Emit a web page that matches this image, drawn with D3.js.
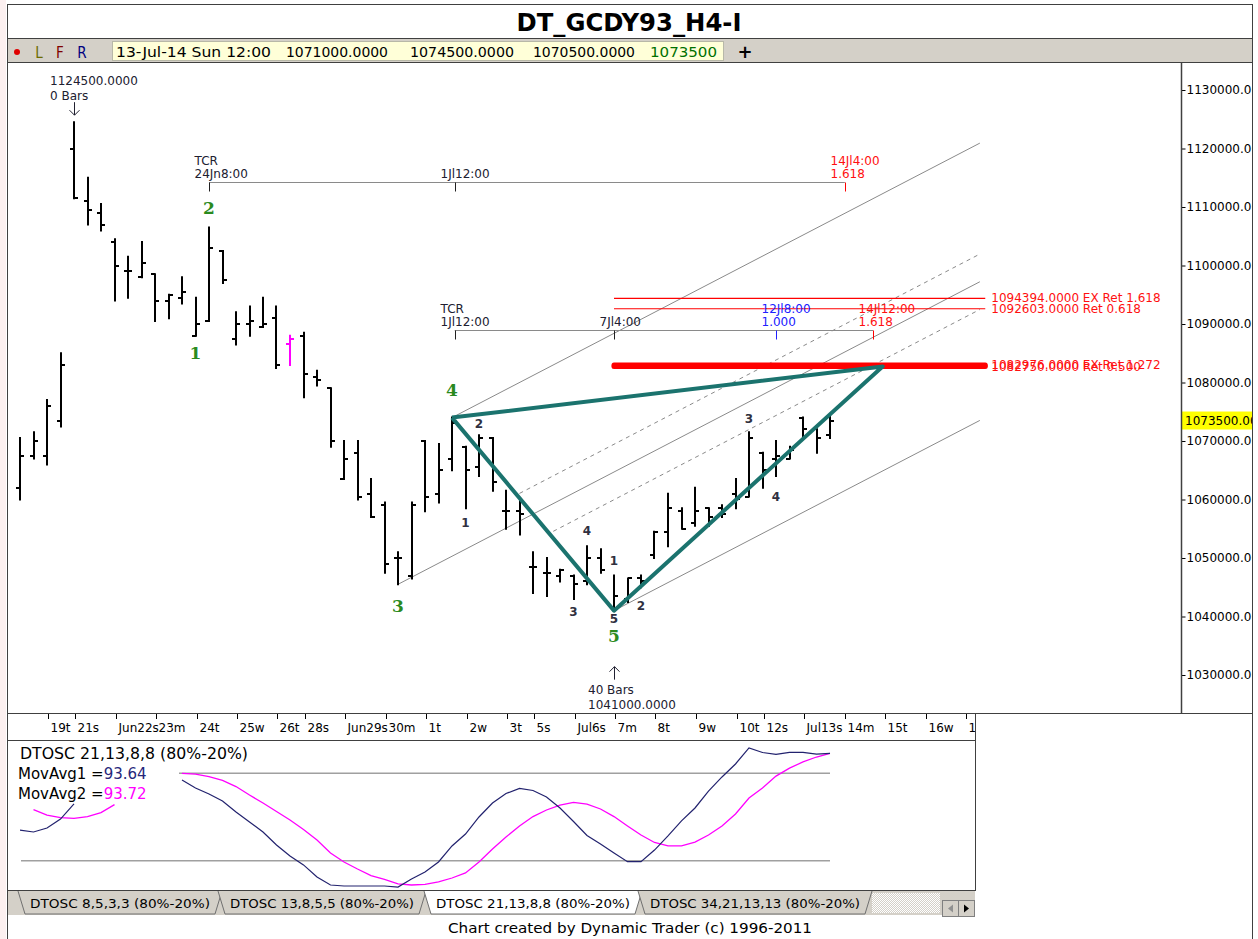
<!DOCTYPE html>
<html><head><meta charset="utf-8">
<script src="https://cdnjs.cloudflare.com/ajax/libs/d3/7.8.5/d3.min.js"></script>
<style>
html,body{margin:0;padding:0;background:#fff;}
svg{display:block;font-family:"DejaVu Sans",sans-serif;}
</style></head><body>
<svg id="chart" width="1258" height="939"></svg>
<script>
// ---------------- DATA ----------------
const opens  = [1062000,1067500,1067500,1073500,1120000,1111000,1109000,1104000,1099000,1098000,
                1098500,1094000,1094500,1088000,1090500,1102500,1087500,1090000,1089500,1091000,
                1086500,1088000,1081000,1079000,1063500,1068000,1061000,1059000,1050000,1047000,
                1070000,1061000,1067000,1069000,1065500,1070500,1058000,1058000,1048500,1047500,
                1047000,1047000,1046000,1050000,1041500,1043000,1046500,1050500,1054500,1058000,
                1056000,1058500,1058500,1061000,1060500,1068000,1067000,1067000,1074000,1072000,1071000];
const highs  = [1070500,1071500,1077000,1085000,1124500,1115000,1110500,1104500,1101500,1104000,
                1098500,1095000,1098000,1094500,1106500,1102500,1092000,1093000,1094500,1093000,
                1088000,1088500,1082000,1079000,1070000,1070000,1063500,1059500,1051000,1059500,
                1070000,1069500,1074000,1069000,1071000,1070500,1061500,1060000,1051000,1050000,
                1048000,1047000,1052000,1051500,1047000,1046500,1047000,1054500,1061000,1058500,
                1062000,1058500,1059000,1063500,1071500,1068000,1070000,1069000,1074000,1072000,1074500];
const lows   = [1060000,1067000,1066000,1072500,1111500,1107000,1106000,1094000,1094500,1098000,
                1090500,1091000,1093500,1088000,1090500,1097000,1086500,1088000,1089500,1082500,
                1083000,1077500,1079500,1069000,1063500,1060000,1057000,1047500,1045500,1046500,
                1058000,1059500,1065000,1058500,1064000,1061500,1055000,1054000,1044000,1043500,
                1046000,1043000,1045500,1047500,1041000,1042500,1045000,1050000,1052000,1055000,
                1055500,1055500,1057000,1058500,1060500,1062000,1064000,1067000,1070500,1068000,1070500];
const closes = [1067500,1070000,1076000,1083000,1111500,1109500,1107000,1100000,1099000,1100500,
                1094000,1095000,1095500,1090000,1103000,1097500,1090000,1090500,1090000,1083000,
                1087500,1081500,1080500,1070000,1067000,1060500,1057000,1049000,1050000,1059000,
                1060500,1065000,1073000,1065000,1070500,1063000,1058000,1057500,1048500,1047500,
                1048000,1045500,1050000,1048000,1043500,1046500,1046000,1054500,1058500,1055000,
                1058000,1057000,1057500,1060000,1070500,1065000,1067500,1068500,1072000,1070500,1073500];
const highlightedBar = 20;

const dayTickIndex  = [2,4,7,10,13,16,19,21,24,27,30,33,36,38,41,44,47,50,53,55,58,61,64,67,70];
const dayTickLabels = ["19t","21s","Jun22s","23m","24t","25w","26t","28s","Jun29s","30m","1t","2w",
                       "3t","5s","Jul6s","7m","8t","9w","10t","12s","Jul13s","14m","15t","16w","17t"];
const priceTicks = [1030000,1040000,1050000,1060000,1070000,1080000,1090000,1100000,1110000,1120000,1130000];
const lastClose = 1073500;

// DTOSC 21,13,8,8 – null where hidden behind the legend box
const oscMovAvg1 = [41,39.7,42.4,48.6,59,null,null,null,null,null,null,null,
  75.4,69.9,65.8,61.0,53.4,46.6,39.7,30.8,23.2,17.1,8.8,3.3,2.6,2.6,2.6,2.6,1.9,7.4,12.2,19.1,30.1,
  38.3,50.0,59.6,66.1,69.7,68.2,63.7,56.2,46.9,37.3,31.5,25.3,19.3,19.3,27.3,37.0,47.3,56.2,67.8,
  77.5,86.4,97.4,94.3,93.0,94.4,94.4,93.2,93.64];
const oscMovAvg2 = [null,55,51.3,49.5,49.0,50.2,53,58.5,null,null,null,null,
  80.0,79.5,77.8,75.1,70.9,65.1,59.6,53.8,47.9,41.4,34.2,25.3,19.1,14.3,9.8,7.1,4.0,3.3,3.7,5.4,8.1,
  11.6,19.1,28.0,36.3,43.8,50.3,54.8,58.2,60.1,58.9,55.5,50.3,43.8,37.6,32.5,30.1,30.1,32.8,37.6,
  43.8,52.1,63.0,69.9,78.1,83.6,87.8,91.2,93.72];
const oscLevels = [80,20];

// wave labels: bar index, price level of the label, text
const majorWaveIndex = [14,13,32,28,44];
const majorWavePrice = [1109800,1085000,1078700,1041800,1036700];
const majorWaveText  = ["2","1","4","3","5"];
const minorWaveIndex = [34,33,42,41,44,44,46,54,56];
const minorWavePrice = [1072900,1056000,1054600,1040900,1049500,1039600,1041800,1073900,1060400];
const minorWaveText  = ["2","1","4","3","1","5","2","3","4"];

// wave 4 -> wave 5 -> projected target
const trianglePivotIndex = [32,44,63.9,32];
const trianglePivotPrice = [1074000,1041000,1082750,1074000];

// parallel channel (centre line through wave-3 low)
const channelStart = [28,1045500];
const channelSlopePerBar = 1200;
const channelEndIndex = 71.1;
const channelSolidOffsets = [23700,0,-23700];
const channelSolidStart   = [32,28,44];
const channelDashOffsets  = [4740,-4740];
const channelDashStart    = [37,39.5];

// price targets
const targetPrices = [1094394,1092603,1082976,1082750];
const targetNames  = ["EX Ret 1.618","Ret 0.618","EX Ret 1.272","Ret 0.500"];
const targetStartIndex = 44, targetEndIndex = 71.5;

// time cycle rulers
const ruler1Price = 1114200, ruler1Ticks = [14,32.2,61.1];
const ruler1Labels = [["TCR","24Jn8:00"],["1Jl12:00"],["14Jl4:00","1.618"]];
const ruler2Price = 1089000, ruler2Ticks = [32.2,44,56,63.2];
const ruler2Labels = [["TCR","1Jl12:00"],["7Jl4:00"],["12Jl8:00","1.000"],["14Jl12:00","1.618"]];
const ruler1Kinds = ["start","mid","red"], ruler2Kinds = ["start","mid","blue","red"];

// pivots with bar counts
const topPivot = {i:4, price:1124500, bars:"0 Bars"};
const bottomPivot = {i:44, price:1041000, bars:"40 Bars"};

const quoteTexts = ["13-Jul-14 Sun 12:00","1071000.0000","1074500.0000","1070500.0000","1073500"];
const tabNames = ["DTOSC 8,5,3,3 (80%-20%)","DTOSC 13,8,5,5 (80%-20%)","DTOSC 21,13,8,8 (80%-20%)","DTOSC 34,21,13,13 (80%-20%)"];

// ---------------- DRAW ----------------
const svg = d3.select("#chart");
const W = 1258, H = 939;
const P = {l:8, r:1181, t:63, b:713};    // price panel
const O = {l:8, r:975, t:741, b:890};    // oscillator panel

const x = d3.scaleLinear().domain([0,70]).range([20,965]);
const y = d3.scaleLinear().domain([1030000,1130000]).range([675,90]);
const yo = d3.scaleLinear().domain([0,100]).range([889.8,744.2]);
const px = i => Math.round(x(i));

svg.append("rect").attr("width",W).attr("height",H).attr("fill","#fff");
svg.append("rect").attr("x",0).attr("y",0).attr("width",6).attr("height",H).attr("fill","#fcf0f0");

const defs = svg.append("defs");
defs.append("clipPath").attr("id","cp").append("rect").attr("x",P.l).attr("y",P.t).attr("width",P.r-P.l).attr("height",P.b-P.t);
defs.append("clipPath").attr("id","cpAxis").append("rect").attr("x",P.r).attr("y",P.t).attr("width",1252-P.r).attr("height",P.b-P.t);
defs.append("clipPath").attr("id","cpTime").append("rect").attr("x",P.l).attr("y",P.b).attr("width",O.r-P.l).attr("height",28);
defs.append("clipPath").attr("id","cpOsc").append("rect").attr("x",O.l).attr("y",O.t).attr("width",O.r-O.l).attr("height",O.b-O.t);
const pat = defs.append("pattern").attr("id","hatch").attr("width",2).attr("height",2).attr("patternUnits","userSpaceOnUse");
pat.append("rect").attr("width",2).attr("height",2).attr("fill","#d4d0c8");
pat.append("rect").attr("width",1).attr("height",1).attr("fill","#ffffff");
pat.append("rect").attr("x",1).attr("y",1).attr("width",1).attr("height",1).attr("fill","#ffffff");

// title
svg.append("text").attr("x",629).attr("y",31).attr("text-anchor","middle")
  .attr("font-family","DejaVu Sans Condensed, DejaVu Sans").attr("font-weight","bold")
  .attr("font-size",25).attr("textLength",225).attr("lengthAdjust","spacingAndGlyphs")
  .text("DT_GCDY93_H4-I");

// toolbar
svg.append("rect").attr("x",7).attr("y",39).attr("width",1246).attr("height",23).attr("fill","#d4d0c8");
svg.append("rect").attr("x",112.5).attr("y",41.5).attr("width",611).attr("height",19).attr("fill","#ffffd8").attr("stroke","#b8b8a8");
svg.append("circle").attr("cx",17).attr("cy",52).attr("r",3).attr("fill","#e00000");
[["L","#6b6b00",39],["F","#800000",60],["R","#000080",82]].forEach(d=>{
  svg.append("text").attr("x",d[2]).attr("y",58).attr("text-anchor","middle").attr("font-size",15)
    .attr("font-family","DejaVu Sans Condensed, DejaVu Sans").attr("fill",d[1]).text(d[0]);
});
const quoteX = [116,286,410,533,650], quoteW = [155,102,104,102,67];
quoteTexts.forEach((t,k)=>{
  svg.append("text").attr("x",quoteX[k]).attr("y",57).attr("font-size",14)
    .attr("font-family","DejaVu Sans Condensed, DejaVu Sans")
    .attr("textLength",quoteW[k]).attr("lengthAdjust","spacingAndGlyphs")
    .attr("fill",k===4?"#007000":"#000").text(t);
});
svg.append("text").attr("x",745).attr("y",58).attr("text-anchor","middle").attr("font-size",18).attr("font-weight","bold").text("+");

// frame lines
const frame = svg.append("g").attr("stroke","#404040").attr("fill","none");
frame.append("line").attr("x1",7.5).attr("x2",7.5).attr("y1",4).attr("y2",H);
frame.append("line").attr("x1",1252.5).attr("x2",1252.5).attr("y1",4).attr("y2",H);
frame.append("line").attr("x1",7).attr("x2",1253).attr("y1",4.5).attr("y2",4.5);
frame.append("line").attr("x1",7).attr("x2",1253).attr("y1",38.5).attr("y2",38.5);
frame.append("line").attr("x1",7).attr("x2",1253).attr("y1",62.5).attr("y2",62.5);
frame.append("line").attr("x1",7).attr("x2",1253).attr("y1",713.5).attr("y2",713.5);
frame.append("line").attr("x1",7).attr("x2",O.r+0.5).attr("y1",740.5).attr("y2",740.5);
frame.append("line").attr("x1",O.r+0.5).attr("x2",O.r+0.5).attr("y1",713).attr("y2",O.b+1);
frame.append("line").attr("x1",7).attr("x2",O.r+0.5).attr("y1",O.b+0.5).attr("y2",O.b+0.5);

// ---- price panel
const pg = svg.append("g").attr("clip-path","url(#cp)");

// channel
const chan = (i,off)=> channelStart[1] + (i-channelStart[0])*channelSlopePerBar + off;
channelSolidOffsets.forEach((off,k)=>{
  pg.append("line").attr("x1",x(channelSolidStart[k])).attr("y1",y(chan(channelSolidStart[k],off)))
    .attr("x2",x(channelEndIndex)).attr("y2",y(chan(channelEndIndex,off)))
    .attr("stroke","#8a8a8a").attr("stroke-width",1);
});
channelDashOffsets.forEach((off,k)=>{
  pg.append("line").attr("x1",x(channelDashStart[k])).attr("y1",y(chan(channelDashStart[k],off)))
    .attr("x2",x(channelEndIndex)).attr("y2",y(chan(channelEndIndex,off)))
    .attr("stroke","#8a8a8a").attr("stroke-width",1).attr("stroke-dasharray","4,4");
});

// target lines
targetPrices.forEach((p,k)=>{
  const thick = k>=2;
  pg.append("line").attr("x1",x(targetStartIndex)).attr("x2",x(targetEndIndex))
    .attr("y1",y(p)).attr("y2",y(p)).attr("stroke","#ff0000")
    .attr("stroke-width",thick?5:1.2).attr("stroke-linecap",thick?"round":"butt");
  pg.append("text").attr("x",x(targetEndIndex)+6).attr("y",y(p)).attr("dy","0.35em")
    .attr("font-size",12).attr("fill","#ff1010").text(p.toFixed(4)+" "+targetNames[k]);
});

// rulers
function ruler(price, ticks, labels, kinds){
  const yy = Math.round(y(price))+0.5;
  pg.append("line").attr("x1",x(ticks[0])).attr("x2",x(ticks[ticks.length-1])).attr("y1",yy).attr("y2",yy)
    .attr("stroke","#8a8a8a").attr("stroke-width",1);
  ticks.forEach((t,k)=>{
    const col = kinds[k]==="red"?"#ff0000":kinds[k]==="blue"?"#2020ff":"#202020";
    const tx = Math.round(x(t))+0.5;
    pg.append("line").attr("x1",tx).attr("x2",tx).attr("y1",yy).attr("y2",yy+9).attr("stroke",col);
    const lab = labels[k];
    lab.forEach((s,j)=>{
      pg.append("text").attr("x",tx-15).attr("y",yy-5-13*(lab.length-1-j)).attr("font-size",12)
        .attr("fill",kinds[k]==="red"?"#ff1010":kinds[k]==="blue"?"#2020ff":"#202030").text(s);
    });
  });
}
ruler(ruler1Price, ruler1Ticks, ruler1Labels, ruler1Kinds);
ruler(ruler2Price, ruler2Ticks, ruler2Labels, ruler2Kinds);

// bars
const bars = d3.range(opens.length).map(i=>({i,o:opens[i],h:highs[i],l:lows[i],c:closes[i]}));
const bg = pg.append("g").attr("stroke-width",2);
bars.forEach(d=>{
  const col = d.i===highlightedBar ? "#ff00ff" : "#000";
  const cx = px(d.i);
  bg.append("line").attr("x1",cx).attr("x2",cx).attr("y1",y(d.h)-1).attr("y2",y(d.l)+1).attr("stroke",col);
  bg.append("line").attr("x1",cx-4).attr("x2",cx).attr("y1",Math.round(y(d.o))).attr("y2",Math.round(y(d.o))).attr("stroke",col);
  bg.append("line").attr("x1",cx).attr("x2",cx+4).attr("y1",Math.round(y(d.c))).attr("y2",Math.round(y(d.c))).attr("stroke",col);
});

// teal triangle
pg.append("path").attr("d", d3.line().x(d=>x(d[0])).y(d=>y(d[1]))(trianglePivotIndex.map((v,k)=>[v,trianglePivotPrice[k]])))
  .attr("fill","none").attr("stroke","#1b736e").attr("stroke-width",4).attr("stroke-linejoin","round");

// wave labels
majorWaveText.forEach((t,k)=>{
  pg.append("text").attr("x",x(majorWaveIndex[k])).attr("y",y(majorWavePrice[k])).attr("dy","0.36em")
    .attr("text-anchor","middle").attr("font-family","DejaVu Serif").attr("font-weight","bold")
    .attr("font-size",17).attr("fill","#2a8a1e").text(t);
});
minorWaveText.forEach((t,k)=>{
  pg.append("text").attr("x",x(minorWaveIndex[k])).attr("y",y(minorWavePrice[k])).attr("dy","0.36em")
    .attr("text-anchor","middle").attr("font-weight","bold")
    .attr("font-size",12).attr("fill","#303040").text(t);
});

// pivot annotations
{
  const tx = px(topPivot.i), ty = y(topPivot.price);
  pg.append("text").attr("x",tx-24).attr("y",ty-37).attr("font-size",12).attr("fill","#202030").text(topPivot.price.toFixed(4));
  pg.append("text").attr("x",tx-24).attr("y",ty-22).attr("font-size",12).attr("fill","#202030").text(topPivot.bars);
  pg.append("path").attr("d",`M${tx+0.5},${ty-20}V${ty-7}M${tx-4.5},${ty-12}L${tx+0.5},${ty-7}L${tx+5.5},${ty-12}`)
    .attr("fill","none").attr("stroke","#202030");
  const bx = px(bottomPivot.i), by = y(bottomPivot.price);
  pg.append("path").attr("d",`M${bx+0.5},${by+69}V${by+56}M${bx-4.5},${by+61}L${bx+0.5},${by+56}L${bx+5.5},${by+61}`)
    .attr("fill","none").attr("stroke","#202030");
  pg.append("text").attr("x",bx-26).attr("y",by+83).attr("font-size",12).attr("fill","#202030").text(bottomPivot.bars);
  pg.append("text").attr("x",bx-26).attr("y",by+98).attr("font-size",12).attr("fill","#202030").text(bottomPivot.price.toFixed(4));
}

// price axis
const ax = svg.append("g").attr("clip-path","url(#cpAxis)");
ax.append("g").attr("transform",`translate(${P.r+0.5},0)`)
  .call(d3.axisRight(y).tickValues(priceTicks).tickSize(4).tickPadding(1).tickFormat(d=>d.toFixed(4)))
  .call(g=>{g.select(".domain").remove();
    g.selectAll("text").attr("font-size",12).attr("font-family","DejaVu Sans").attr("fill","#000");
    g.selectAll("line").attr("stroke","#000");});
ax.append("rect").attr("x",P.r+1).attr("y",y(lastClose)-9).attr("width",80).attr("height",18).attr("fill","#ffff00");
ax.append("text").attr("x",P.r+4).attr("y",y(lastClose)).attr("dy","0.35em").attr("font-size",12).text(lastClose.toFixed(4));
svg.append("line").attr("x1",P.r+0.5).attr("x2",P.r+0.5).attr("y1",P.t).attr("y2",P.b).attr("stroke","#404040").attr("stroke-width",1.5);

// time axis
const tg = svg.append("g").attr("clip-path","url(#cpTime)");
tg.append("g").attr("transform",`translate(0,${P.b+1})`)
  .call(d3.axisBottom(x).tickValues(dayTickIndex).tickSize(5).tickFormat((d,k)=>dayTickLabels[k]))
  .call(g=>{g.select(".domain").remove();
    g.selectAll(".tick").attr("transform",d=>`translate(${Math.round(x(d))+1.5},0)`);
    g.selectAll("line").attr("stroke","#000");
    g.selectAll("text").attr("text-anchor","start").attr("x",2).attr("y",9)
      .attr("font-size",12).attr("font-family","DejaVu Sans").attr("fill","#000");});

// ---- oscillator panel
const og = svg.append("g").attr("clip-path","url(#cpOsc)");
oscLevels.forEach(v=>{
  og.append("line").attr("x1",x(0)+1).attr("x2",x(60)).attr("y1",yo(v)).attr("y2",yo(v))
    .attr("stroke","#a0a0a0").attr("stroke-width",1.5);
});
const oline = d3.line().defined(d=>d!=null).x((d,i)=>x(i)).y(d=>yo(d));
og.append("path").attr("d",oline(oscMovAvg2)).attr("fill","none").attr("stroke","#ff00ff").attr("stroke-width",1.3);
og.append("path").attr("d",oline(oscMovAvg1)).attr("fill","none").attr("stroke","#22226e").attr("stroke-width",1.2);
og.append("rect").attr("x",O.l).attr("y",O.t).attr("width",171).attr("height",61).attr("fill","#fff");
og.append("text").attr("x",20).attr("y",759).attr("font-size",15).attr("textLength",228).attr("lengthAdjust","spacingAndGlyphs").text("DTOSC 21,13,8,8 (80%-20%)");
const l1 = og.append("text").attr("x",18).attr("y",779).attr("font-size",15);
l1.append("tspan").text("MovAvg1 =");
l1.append("tspan").attr("fill","#26267a").text(oscMovAvg1[oscMovAvg1.length-1].toFixed(2));
const l2 = og.append("text").attr("x",18).attr("y",799).attr("font-size",15);
l2.append("tspan").text("MovAvg2 =");
l2.append("tspan").attr("fill","#ff00ff").text(oscMovAvg2[oscMovAvg2.length-1].toFixed(2));

// tabs
svg.append("rect").attr("x",8).attr("y",891).attr("width",967).attr("height",24).attr("fill","#d4d0c8");
svg.append("rect").attr("x",872).attr("y",893).attr("width",68).attr("height",20).attr("fill","url(#hatch)");
const tabX = [[18,222],[218,426],[424,642],[638,872]];
tabNames.forEach((t,k)=>{
  const [a,b] = tabX[k];
  const active = k===2;
  svg.append("path").attr("d",`M${a},891L${a+7},914L${b-7},914L${b},891`)
    .attr("fill",active?"#fff":"#d4d0c8").attr("stroke","#707070");
  svg.append("text").attr("x",(a+b)/2).attr("y",908).attr("text-anchor","middle").attr("font-size",13)
    .attr("font-family","DejaVu Sans Condensed, DejaVu Sans").attr("textLength",b-a-24).attr("lengthAdjust","spacingAndGlyphs").text(t);
});
svg.append("rect").attr("x",942.5).attr("y",900.5).attr("width",16).attr("height",16).attr("fill","#d4d0c8").attr("stroke","#808080");
svg.append("rect").attr("x",958.5).attr("y",900.5).attr("width",16).attr("height",16).attr("fill","#d4d0c8").attr("stroke","#808080");
svg.append("path").attr("d","M948,908.5L953,904.5V912.5Z").attr("fill","#909090");
svg.append("path").attr("d","M969,908.5L964,904.5V912.5Z").attr("fill","#000");

svg.append("text").attr("x",630).attr("y",933).attr("text-anchor","middle").attr("font-size",14)
  .attr("font-family","DejaVu Sans Condensed, DejaVu Sans").attr("textLength",364).attr("lengthAdjust","spacingAndGlyphs")
  .text("Chart created by Dynamic Trader  (c) 1996-2011");
</script></body></html>
